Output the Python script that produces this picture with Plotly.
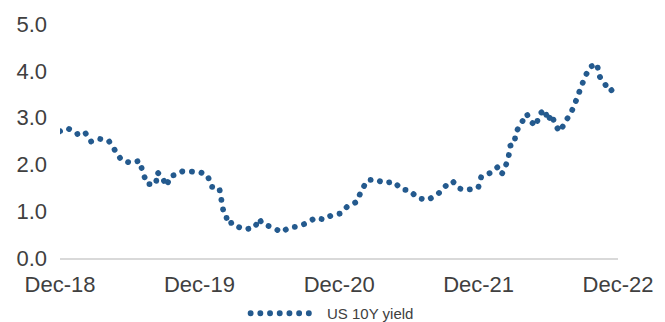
import plotly.graph_objects as go

# US 10-year Treasury yield (%), sampled dates
dates = [
    "2018-12-31", "2019-01-21", "2019-02-14", "2019-03-05", "2019-03-22",
    "2019-04-11", "2019-05-07", "2019-05-26", "2019-06-10", "2019-07-05",
    "2019-07-27", "2019-08-05", "2019-08-16", "2019-09-08", "2019-09-12",
    "2019-09-24", "2019-10-06", "2019-10-16", "2019-11-04", "2019-11-16",
    "2019-12-11", "2019-12-31", "2020-01-21", "2020-02-01", "2020-02-21",
    "2020-02-27", "2020-03-03", "2020-03-09", "2020-03-14", "2020-03-28",
    "2020-04-09", "2020-04-28", "2020-05-24", "2020-06-04", "2020-06-13",
    "2020-07-07", "2020-08-03", "2020-08-21", "2020-09-13", "2020-10-08",
    "2020-10-30", "2020-11-22", "2020-12-10", "2021-01-03", "2021-01-20",
    "2021-02-15", "2021-02-27", "2021-03-15", "2021-04-05", "2021-04-28",
    "2021-05-22", "2021-06-14", "2021-07-02", "2021-07-25", "2021-08-20",
    "2021-09-16", "2021-10-06", "2021-10-24", "2021-11-09", "2021-11-28",
    "2021-12-09", "2021-12-30", "2022-01-07", "2022-01-31", "2022-02-20",
    "2022-03-02", "2022-03-09", "2022-03-19", "2022-03-24", "2022-04-03",
    "2022-04-08", "2022-04-24", "2022-05-06", "2022-05-16", "2022-05-30",
    "2022-06-08", "2022-06-22", "2022-07-01", "2022-07-10", "2022-07-21",
    "2022-08-01", "2022-08-15", "2022-08-31", "2022-09-12", "2022-09-22",
    "2022-10-04", "2022-10-18", "2022-10-26", "2022-11-06", "2022-11-12",
    "2022-11-28", "2022-12-10", "2022-12-21",
]
yield_10y = [
    2.71, 2.77, 2.65, 2.70, 2.49,
    2.55, 2.51, 2.30, 2.09, 2.03,
    2.08, 1.83, 1.58, 1.58, 1.83,
    1.73, 1.54, 1.75, 1.79, 1.85,
    1.83, 1.84, 1.77, 1.52, 1.50,
    1.24, 0.99, 0.95, 0.73, 0.76,
    0.67, 0.61, 0.65, 0.84, 0.73,
    0.66, 0.55, 0.65, 0.67, 0.75,
    0.86, 0.82, 0.91, 0.95, 1.09,
    1.20, 1.44, 1.66, 1.68, 1.60,
    1.63, 1.46, 1.45, 1.28, 1.24,
    1.37, 1.54, 1.64, 1.49, 1.45,
    1.46, 1.50, 1.74, 1.82, 1.95,
    1.80, 1.90, 2.14, 2.40, 2.43,
    2.69, 2.90, 3.08, 2.92, 2.82,
    3.07, 3.17, 2.93, 3.07, 2.82,
    2.70, 2.91, 3.12, 3.36, 3.61,
    3.84, 4.08, 4.10, 4.15, 3.89,
    3.68, 3.56, 3.63,
]

x_tick_dates = ["2018-12-31", "2019-12-31", "2020-12-31", "2021-12-31", "2022-12-31"]
x_tick_labels = ["Dec-18", "Dec-19", "Dec-20", "Dec-21", "Dec-22"]
y_tick_vals = [0, 1, 2, 3, 4, 5]
y_tick_labels = ["0.0", "1.0", "2.0", "3.0", "4.0", "5.0"]
series_name = "US 10Y yield"

LINE_COLOR = "#245A8E"
TEXT_COLOR = "#404040"
AXIS_COLOR = "#D9D9D9"
DOT_WIDTH = 5.8
DOT_DASH = "0.1px,9.6px"

# plot-area geometry in pixels, used to place the legend key in paper units
PLOT_L, PLOT_W, PLOT_B, PLOT_H = 60, 568, 258.3, 235.8


def paper_x(px):
    return (px - PLOT_L) / PLOT_W


def paper_y(py):
    return (PLOT_B - py) / PLOT_H


fig = go.Figure()
fig.add_trace(go.Scatter(
    x=dates, y=yield_10y, mode="lines", name=series_name,
    line=dict(color=LINE_COLOR, width=DOT_WIDTH, dash=DOT_DASH),
    showlegend=False, hoverinfo="x+y",
))

# legend key: dotted sample line plus label below the plot
key_y = paper_y(314)
fig.add_shape(type="line", xref="paper", yref="paper",
              x0=paper_x(254), x1=paper_x(322), y0=key_y, y1=key_y,
              line=dict(color=LINE_COLOR, width=DOT_WIDTH, dash=DOT_DASH))
fig.add_annotation(text=series_name, xref="paper", yref="paper",
                   x=paper_x(330), y=key_y,
                   xanchor="left", yanchor="middle", showarrow=False,
                   font=dict(size=15, color=TEXT_COLOR))

fig.update_layout(
    width=665, height=322,
    margin=dict(l=60, r=37, t=22, b=64),
    paper_bgcolor="white", plot_bgcolor="white",
    font=dict(family="Liberation Sans, Arial, sans-serif", size=22, color=TEXT_COLOR),
    showlegend=False,
    xaxis=dict(
        type="date", range=[x_tick_dates[0], x_tick_dates[-1]],
        tickmode="array", tickvals=x_tick_dates, ticktext=x_tick_labels,
        showgrid=False, zeroline=False, showline=True,
        linecolor=AXIS_COLOR, linewidth=1.5, ticks="",
        ticklabelstandoff=6,
    ),
    yaxis=dict(
        range=[0, 5], tickmode="array", tickvals=y_tick_vals, ticktext=y_tick_labels,
        showgrid=False, zeroline=False, showline=False, ticks="",
        ticklabelstandoff=12,
    ),
)

round_caps = (
    "var s=document.createElement('style');"
    "s.textContent='.js-line, .shapelayer path{stroke-linecap:round !important;}';"
    "document.head.appendChild(s);"
)
fig.write_html("out.html", post_script=round_caps)
